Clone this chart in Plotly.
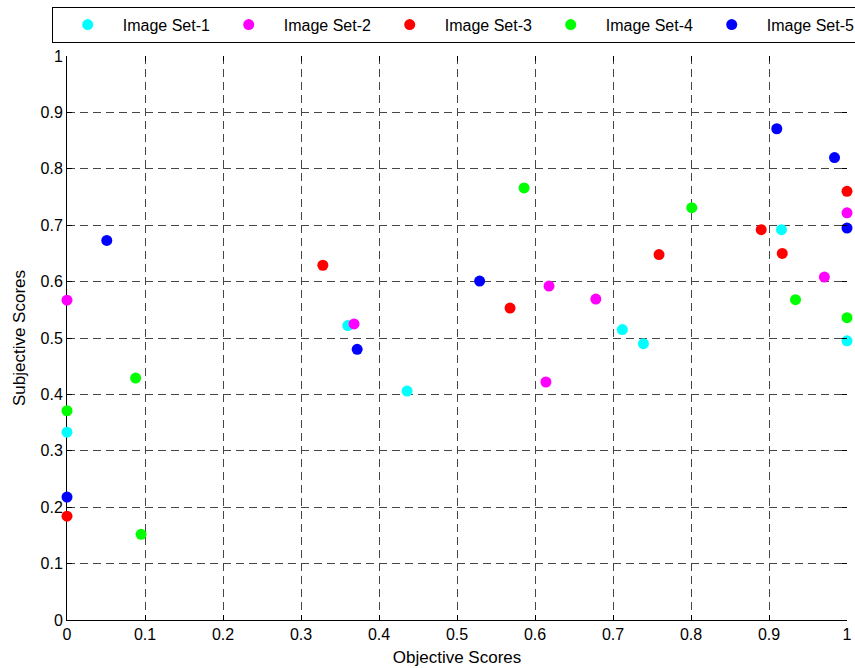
import plotly.graph_objects as go

series_names = ["Image Set-1", "Image Set-2", "Image Set-3", "Image Set-4", "Image Set-5"]
series_colors = ["#00FFFF", "#FF00FF", "#FF0000", "#00FF00", "#0000FF"]

set1_x = [0.0, 0.360, 0.436, 0.712, 0.739, 0.916, 1.0]
set1_y = [0.333, 0.522, 0.406, 0.515, 0.490, 0.692, 0.495]

set2_x = [0.0, 0.368, 0.614, 0.618, 0.678, 0.971, 1.0]
set2_y = [0.567, 0.525, 0.422, 0.592, 0.569, 0.608, 0.722]

set3_x = [0.0, 0.328, 0.568, 0.759, 0.890, 0.917, 1.0]
set3_y = [0.184, 0.629, 0.553, 0.648, 0.692, 0.650, 0.760]

set4_x = [0.0, 0.088, 0.095, 0.586, 0.801, 0.934, 1.0]
set4_y = [0.371, 0.429, 0.152, 0.766, 0.731, 0.568, 0.536]

set5_x = [0.0, 0.051, 0.372, 0.529, 0.910, 0.984, 1.0]
set5_y = [0.218, 0.673, 0.480, 0.601, 0.871, 0.820, 0.695]

xs = [set1_x, set2_x, set3_x, set4_x, set5_x]
ys = [set1_y, set2_y, set3_y, set4_y, set5_y]

tick_vals = [i / 10 for i in range(11)]
tick_text = ["0", "0.1", "0.2", "0.3", "0.4", "0.5", "0.6", "0.7", "0.8", "0.9", "1"]

FONT = "Liberation Sans, Arial, sans-serif"

fig = go.Figure()
for name, color, x, y in zip(series_names, series_colors, xs, ys):
    fig.add_trace(go.Scatter(
        x=x, y=y, mode="markers", name=name,
        marker=dict(color=color, size=11, line=dict(width=0)),
        cliponaxis=False,
    ))

# empty traces for mirrored tick axes
fig.add_trace(go.Scatter(x=[], y=[], xaxis="x2", yaxis="y", showlegend=False))
fig.add_trace(go.Scatter(x=[], y=[], xaxis="x", yaxis="y2", showlegend=False))

axis_common = dict(
    range=[0, 1], tickvals=tick_vals, ticktext=tick_text,
    ticks="inside", ticklen=5, tickcolor="black", tickwidth=1,
    showline=True, linecolor="black", linewidth=1,
    showgrid=True, gridcolor="rgb(70,70,70)", gridwidth=1, griddash="8px,5px",
    zeroline=False, layer="below traces", automargin=False,
    tickfont=dict(family=FONT, size=16, color="black"),
)

fig.update_layout(
    width=855, height=668,
    margin=dict(l=67, r=8, t=56, b=48, autoexpand=False),
    paper_bgcolor="white", plot_bgcolor="white",
    font=dict(family=FONT, size=16, color="black"),
    xaxis=dict(**axis_common, title=dict(text="Objective Scores", font=dict(family=FONT, size=17), standoff=8)),
    yaxis=dict(**axis_common, title=dict(text="Subjective Scores", font=dict(family=FONT, size=17), standoff=10)),
    xaxis2=dict(range=[0, 1], tickvals=tick_vals, overlaying="x", side="top", anchor="y",
                ticks="inside", ticklen=5, tickcolor="black", showticklabels=False,
                showgrid=False, zeroline=False, showline=False),
    yaxis2=dict(range=[0, 1], tickvals=tick_vals, overlaying="y", side="right", anchor="x",
                ticks="inside", ticklen=5, tickcolor="black", showticklabels=False,
                showgrid=False, zeroline=False, showline=False),
    legend=dict(
        orientation="h", x=-0.0196, y=1.0875, xanchor="left", yanchor="top",
        bordercolor="black", borderwidth=1, bgcolor="white",
        font=dict(family=FONT, size=16, color="black"),
        itemwidth=60, entrywidth=86, entrywidthmode="pixels",
    ),
    showlegend=True,
)

fig.write_html("out.html")
